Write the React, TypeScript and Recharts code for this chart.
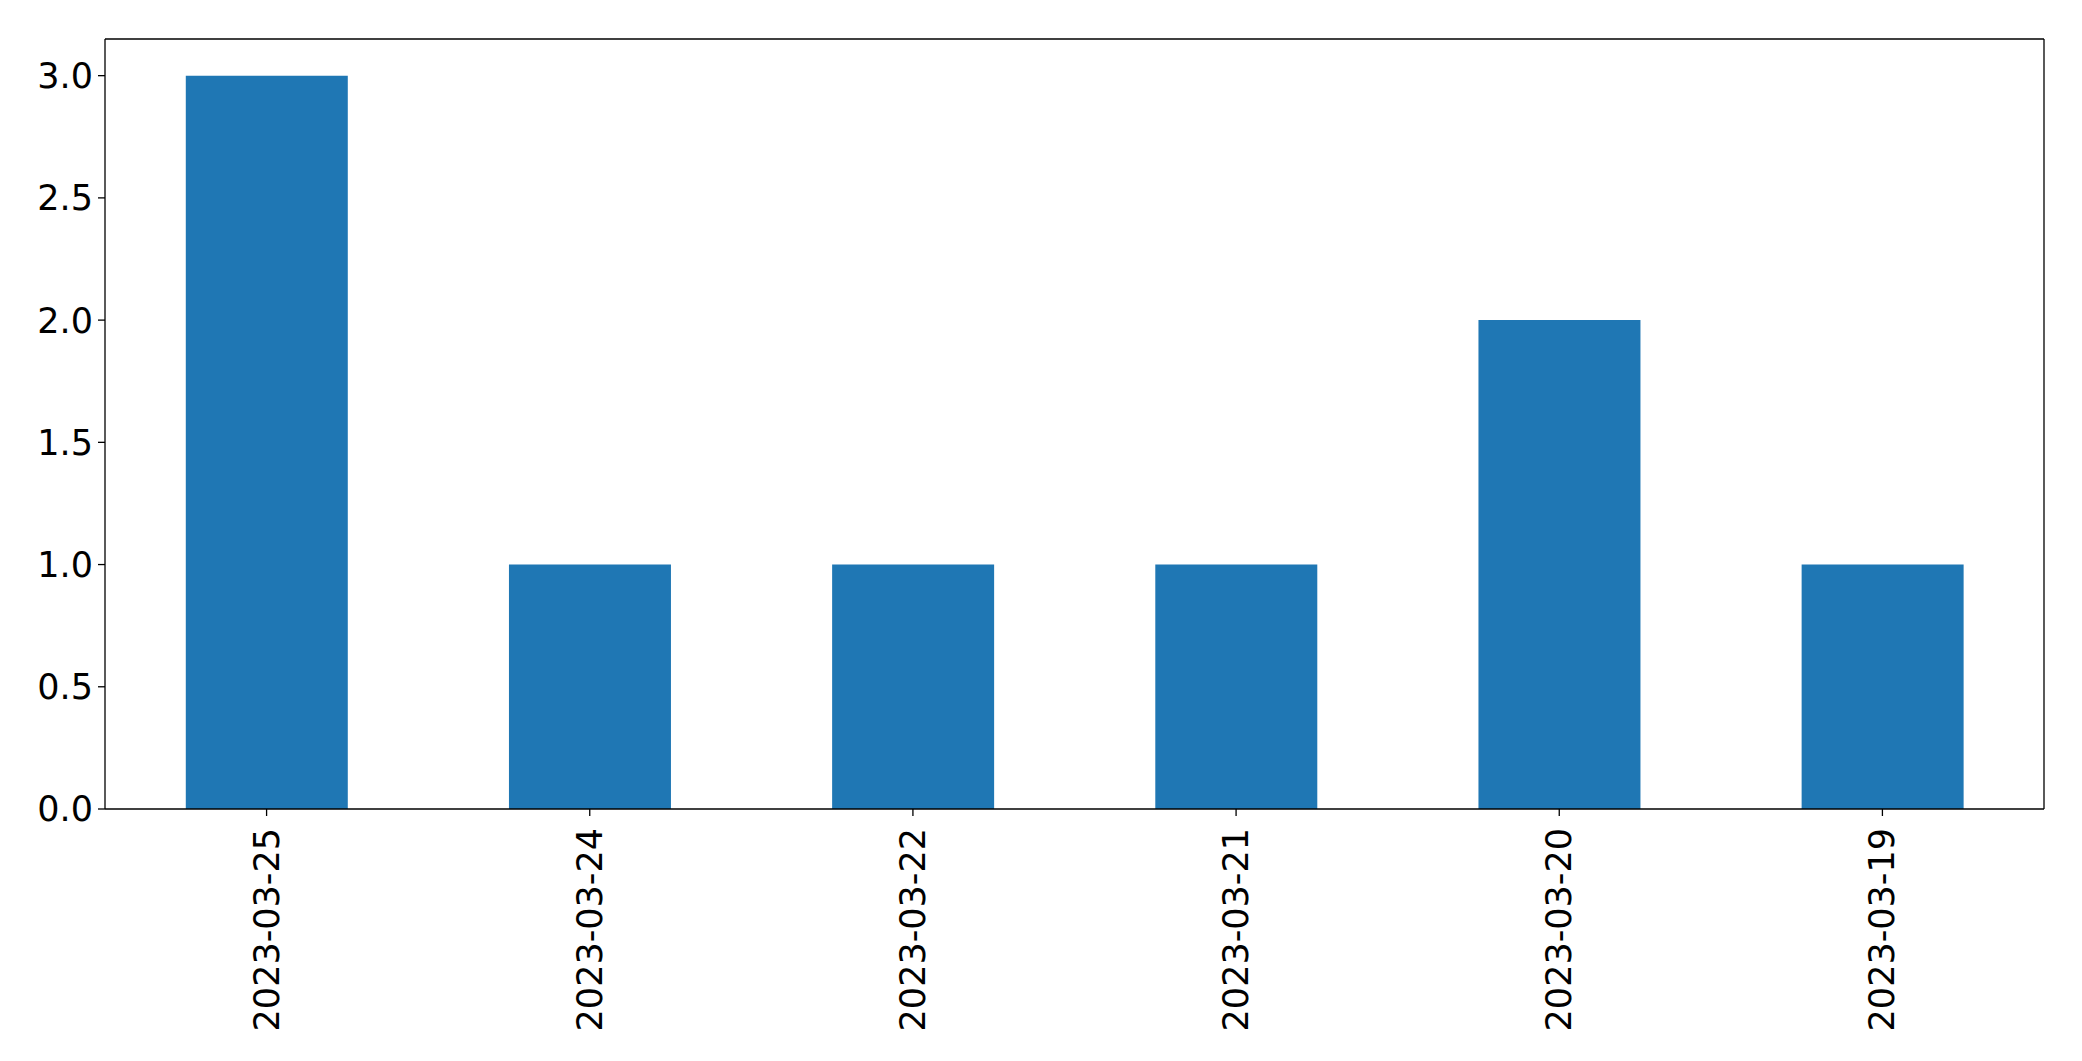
import { Bar, BarChart, XAxis, YAxis } from 'recharts';

const dates = ['2023-03-25', '2023-03-24', '2023-03-22', '2023-03-21', '2023-03-20', '2023-03-19'];
const counts = [3, 1, 1, 1, 2, 1];
const yTicks = [0, 0.5, 1, 1.5, 2, 2.5, 3];

const data = dates.map((date, i) => ({ date, count: counts[i] }));

const FONT = '"DejaVu Sans", sans-serif';
const LINE = { stroke: '#000', strokeWidth: 1.3 };

function DateTick({ x, y, payload }: any) {
  return (
    <g transform={`translate(${x},${y})`}>
      <text
        transform="rotate(-90)"
        textAnchor="end"
        dominantBaseline="central"
        fontSize={35}
        fontFamily={FONT}
        fill="#000"
      >
        {payload.value}
      </text>
    </g>
  );
}

export default function App() {
  return (
    <div style={{ position: 'absolute', left: 0, top: 0, background: '#fff' }}>
      <BarChart
        width={2082}
        height={1061}
        data={data}
        margin={{ top: 38, right: 37, left: 45, bottom: 12 }}
        barCategoryGap="25%"
      >
        <XAxis
          dataKey="date"
          height={240}
          interval={0}
          tickSize={7}
          tickMargin={12}
          tick={<DateTick />}
          axisLine={LINE}
          tickLine={LINE}
        />
        <XAxis
          xAxisId="top"
          dataKey="date"
          orientation="top"
          height={1}
          tick={false}
          tickLine={false}
          axisLine={LINE}
        />
        <YAxis
          width={60}
          domain={[0, 3.15]}
          ticks={yTicks}
          tickFormatter={(v: number) => v.toFixed(1)}
          tickSize={7}
          tickMargin={5}
          tick={{ fontSize: 35, fontFamily: FONT, fill: '#000' }}
          axisLine={LINE}
          tickLine={LINE}
        />
        <YAxis
          yAxisId="right"
          orientation="right"
          width={1}
          domain={[0, 3.15]}
          tick={false}
          tickLine={false}
          axisLine={LINE}
        />
        <Bar dataKey="count" fill="#1f77b4" isAnimationActive={false} />
      </BarChart>
    </div>
  );
}
